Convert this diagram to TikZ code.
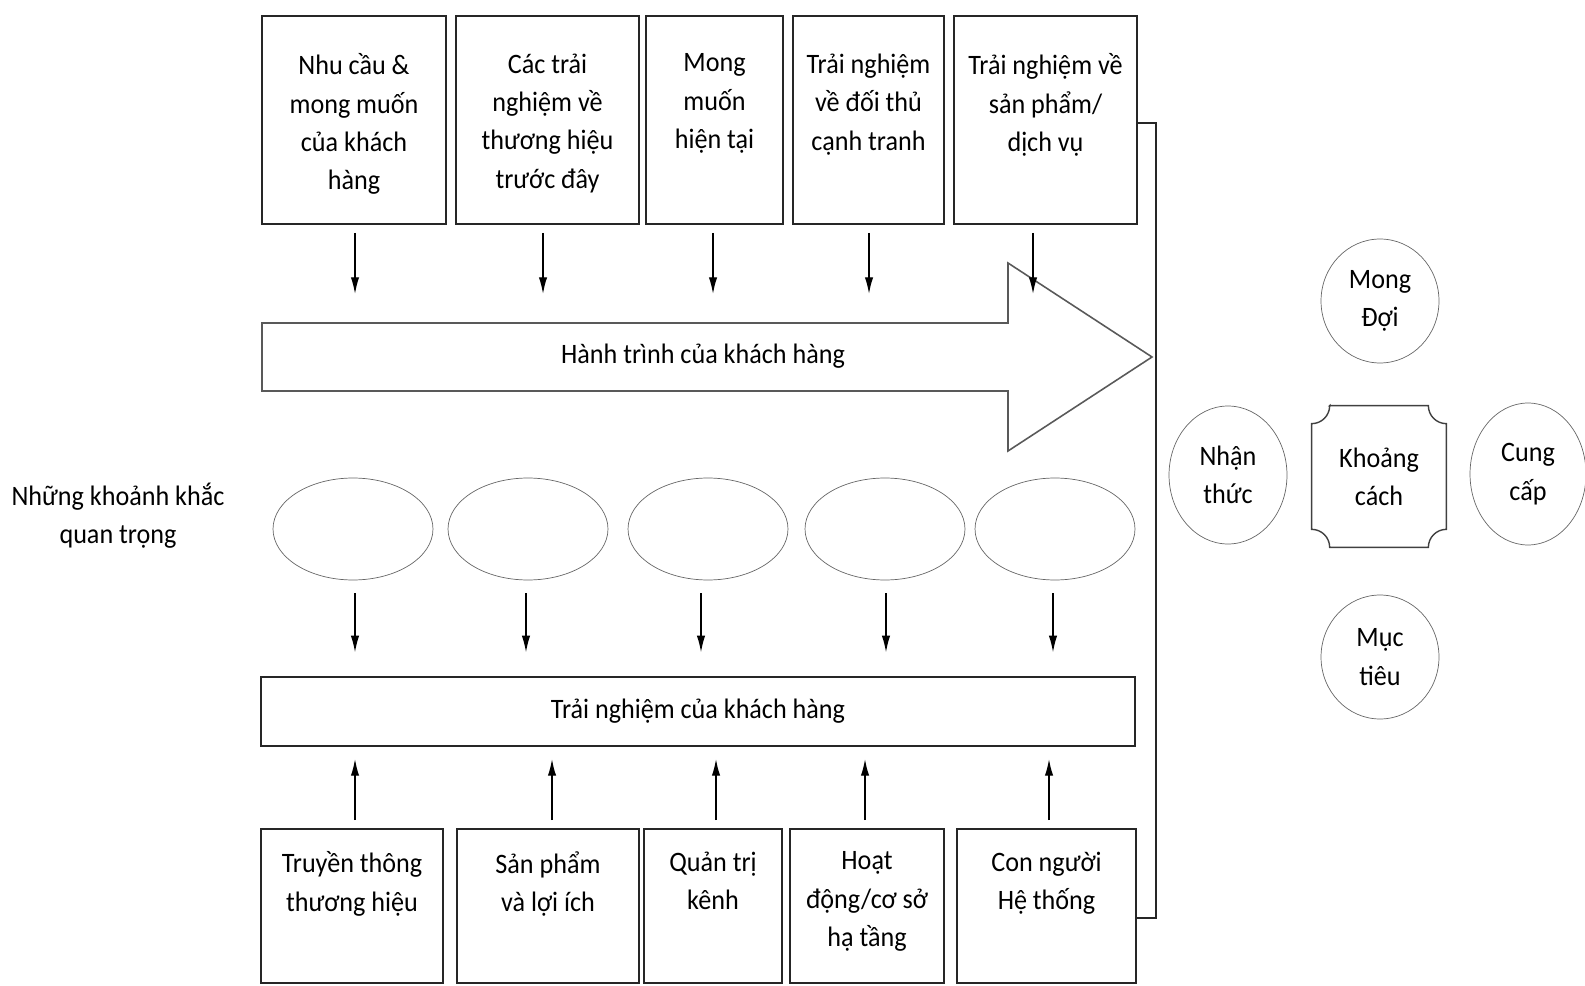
\documentclass[tikz,border=0pt]{standalone}
\usepackage{fontspec}
\setmainfont{Carlito}[FakeStretch=0.93]
\usetikzlibrary{shapes.geometric,arrows.meta}

\tikzset{
  box/.style={draw=black!85, line width=1.1pt, inner sep=0pt},
  toplbl/.style={anchor=north, yshift=-0.77cm, align=center, inner sep=0pt, execute at begin node=\strut},
  botlbl/.style={anchor=north, yshift=-0.47cm, align=center, inner sep=0pt, execute at begin node=\strut},
  moment/.style={draw=black!60, ellipse, minimum width=3.2cm, minimum height=2.04cm, inner sep=0pt},
  bubble/.style={draw=black!60, ellipse, align=center, inner sep=0pt},
  flow/.style={-{Latex[length=9.5pt,width=4.8pt]}, line width=0.8pt},
}

\begin{document}
\begin{tikzpicture}[x=0.02cm, y=0.02cm, font=\fontsize{16pt}{21.8pt}\selectfont]
\useasboundingbox (0,0) rectangle (1585,-986);

% influences on top
\node[box, minimum width=3.68cm, minimum height=4.16cm, label={[toplbl]north:Nhu cầu \&\\mong muốn\\của khách\\hàng}] (t1) at (354,-120) {};
\node[box, minimum width=3.66cm, minimum height=4.16cm, label={[toplbl]north:Các trải\\nghiệm về\\thương hiệu\\trước đây}] (t2) at (547.5,-120) {};
\node[box, minimum width=2.74cm, minimum height=4.16cm, label={[toplbl]north:Mong\\muốn\\hiện tại}] (t3) at (714.5,-120) {};
\node[box, minimum width=3.02cm, minimum height=4.16cm, label={[toplbl]north:Trải nghiệm\\về đối thủ\\cạnh tranh}] (t4) at (868.5,-120) {};
\node[box, minimum width=3.66cm, minimum height=4.16cm, label={[toplbl]north:Trải nghiệm về\\sản phẩm/\\dịch vụ}] (t5) at (1045.5,-120) {};

\draw[flow] (t1.south) ++(1,-8) -- ++(0,-61);
\draw[flow] (t2.south) ++(-4.5,-8) -- ++(0,-61);
\draw[flow] (t3.south) ++(-1.5,-8) -- ++(0,-61);
\draw[flow] (t4.south) ++(0.5,-8) -- ++(0,-61);

% journey arrow
\draw[draw=black!65, line width=0.9pt] (262,-323) -- (1008,-323) -- (1008,-263) -- (1152,-357) -- (1008,-451) -- (1008,-391) -- (262,-391) -- cycle;
\node (journey) at (703,-356) {Hành trình của khách hàng};
\draw[flow] (t5.south) ++(-12.5,-8) -- ++(0,-61);

% moments of truth
\node at (118,-516) [align=center] (moments) {Những khoảnh khắc\\quan trọng};
\node[moment] (e1) at (353,-529) {};
\node[moment] (e2) at (528,-529) {};
\node[moment] (e3) at (708,-529) {};
\node[moment] (e4) at (885,-529) {};
\node[moment] (e5) at (1055,-529) {};

\node[box, minimum width=17.48cm, minimum height=1.38cm] (exp) at (698,-711.5) {Trải nghiệm của khách hàng};

\draw[flow] (e1.south) ++(2,-13) -- ++(0,-59);
\draw[flow] (e2.south) ++(-2,-13) -- ++(0,-59);
\draw[flow] (e3.south) ++(-7,-13) -- ++(0,-59);
\draw[flow] (e4.south) ++(1,-13) -- ++(0,-59);
\draw[flow] (e5.south) ++(-2,-13) -- ++(0,-59);

% delivery boxes
\node[box, minimum width=3.64cm, minimum height=3.08cm, label={[botlbl]north:Truyền thông\\thương hiệu}] (b1) at (352,-906) {};
\node[box, minimum width=3.64cm, minimum height=3.08cm, label={[botlbl]north:Sản phẩm\\và lợi ích}] (b2) at (548,-906) {};
\node[box, minimum width=2.76cm, minimum height=3.08cm, label={[botlbl]north:Quản trị\\kênh}] (b3) at (713,-906) {};
\node[box, minimum width=3.08cm, minimum height=3.08cm, label={[botlbl]north:Hoạt\\động/cơ sở\\hạ tầng}] (b4) at (867,-906) {};
\node[box, minimum width=3.58cm, minimum height=3.08cm, label={[botlbl]north:Con người\\Hệ thống}] (b5) at (1046.5,-906) {};

\draw[flow] (b1.north) ++(3,8) -- ++(0,61);
\draw[flow] (b2.north) ++(4,8) -- ++(0,61);
\draw[flow] (b3.north) ++(3,8) -- ++(0,61);
\draw[flow] (b4.north) ++(-2,8) -- ++(0,61);
\draw[flow] (b5.north) ++(2.5,8) -- ++(0,61);

\draw[box] (t5.east) ++(0,-3) -- ++(18,0) |- ([yshift=-0.24cm]b5.east);

% gap model
\node[bubble, minimum width=2.36cm, minimum height=2.48cm] (mong) at (1380,-301) {Mong\\Đợi};
\node[bubble, minimum width=2.36cm, minimum height=2.76cm] (nhan) at (1228,-475) {Nhận\\thức};
\node[bubble, minimum width=2.32cm, minimum height=2.84cm] (cung) at (1528,-474) {Cung\\cấp};
\node[bubble, minimum width=2.36cm, minimum height=2.48cm] (muc) at (1380,-657) {Mục\\tiêu};
\node[align=center, minimum width=2.68cm, minimum height=2.82cm] (khoang) at (1379,-476.5) {Khoảng\\cách};
\draw[draw=black!75, line width=0.8pt] ([xshift=0.36cm]khoang.north west) -- ([xshift=-0.36cm]khoang.north east)
  arc[start angle=180, end angle=270, radius=18] -- ([yshift=0.36cm]khoang.south east)
  arc[start angle=90, end angle=180, radius=18] -- ([xshift=0.36cm]khoang.south west)
  arc[start angle=0, end angle=90, radius=18] -- ([yshift=-0.36cm]khoang.north west)
  arc[start angle=270, end angle=360, radius=18] -- cycle;
\end{tikzpicture}
\end{document}
